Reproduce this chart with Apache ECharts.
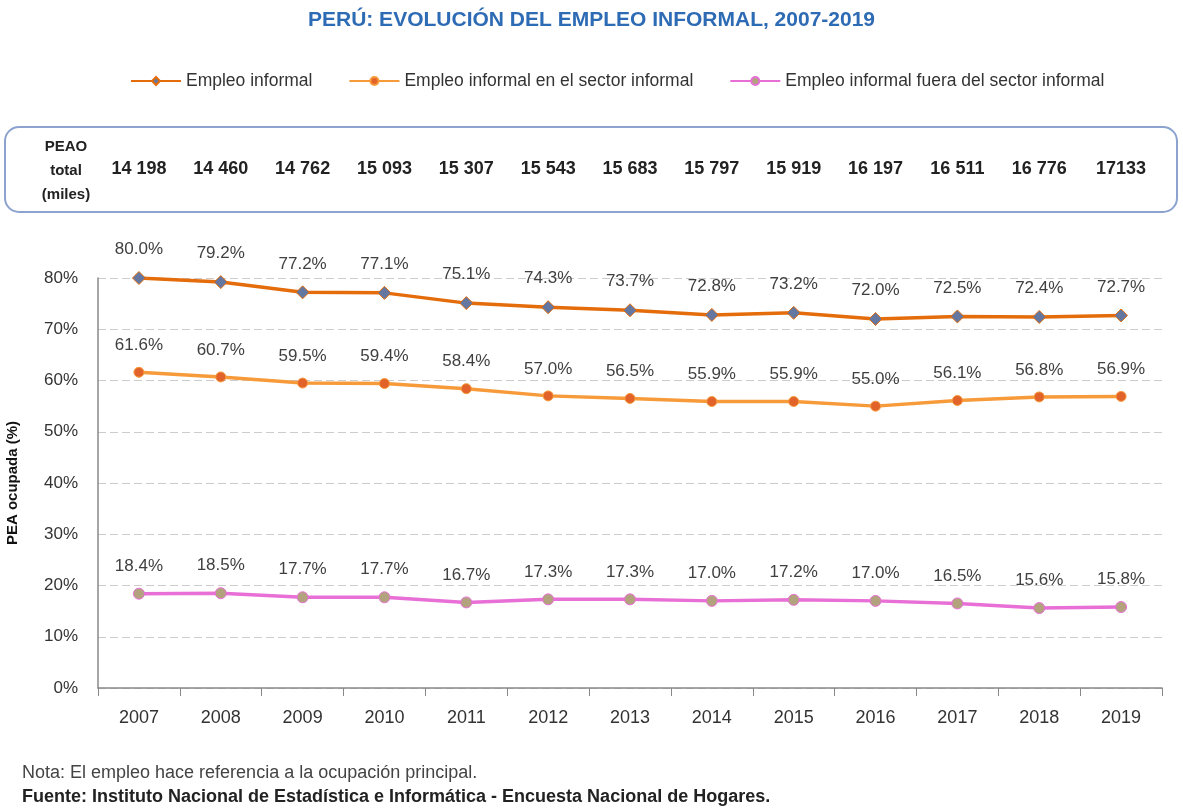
<!DOCTYPE html>
<html>
<head>
<meta charset="utf-8">
<script src="https://cdn.jsdelivr.net/npm/echarts@6/dist/echarts.min.js"></script>
<style>
  html, body { margin: 0; padding: 0; background: #fff; }
  #main { width: 1183px; height: 812px; }
</style>
</head>
<body>
<div id="main"></div>
<script>
var years = ['2007','2008','2009','2010','2011','2012','2013','2014','2015','2016','2017','2018','2019'];
var peao = ['14 198','14 460','14 762','15 093','15 307','15 543','15 683','15 797','15 919','16 197','16 511','16 776','17133'];
var empleoInformal = [80.0, 79.2, 77.2, 77.1, 75.1, 74.3, 73.7, 72.8, 73.2, 72.0, 72.5, 72.4, 72.7];
var enSector = [61.6, 60.7, 59.5, 59.4, 58.4, 57.0, 56.5, 55.9, 55.9, 55.0, 56.1, 56.8, 56.9];
var fueraSector = [18.4, 18.5, 17.7, 17.7, 16.7, 17.3, 17.3, 17.0, 17.2, 17.0, 16.5, 15.6, 15.8];
var yTicks = [0, 10, 20, 30, 40, 50, 60, 70, 80];

var font = 'Liberation Sans';
var chart = echarts.init(document.getElementById('main'));

function labelCfg() {
  return {
    show: true, position: 'top', distance: 13,
    fontFamily: font, fontSize: 17, color: '#404040',
    formatter: function (p) { return p.value.toFixed(1) + '%'; }
  };
}

chart.setOption({
  animation: false,
  textStyle: { fontFamily: font },
  title: {
    text: 'PERÚ: EVOLUCIÓN DEL EMPLEO INFORMAL, 2007-2019',
    left: 'center', top: 5,
    textStyle: { fontFamily: font, fontSize: 21, fontWeight: 'bold', color: '#2E6BB5' }
  },
  legend: {
    top: 67, left: 125, itemGap: 36, itemWidth: 50, itemHeight: 10,
    textStyle: { fontFamily: font, fontSize: 17.5, color: '#333' },
    data: ['Empleo informal', 'Empleo informal en el sector informal', 'Empleo informal fuera del sector informal']
  },
  grid: { left: 98, right: 21, top: 278, bottom: 124, outerBoundsMode: 'none' },
  graphic: [
    { type: 'rect', shape: { x: 5, y: 127, width: 1172, height: 85, r: 14 },
      style: { fill: 'none', stroke: '#8DA3CF', lineWidth: 2 } },
    { type: 'text', x: 66, y: 171,
      style: { text: 'PEAO\ntotal\n(miles)', align: 'center', verticalAlign: 'middle',
        font: 'bold 15px ' + font, fill: '#222', lineHeight: 24 } },
    { type: 'text', x: 22, y: 764,
      style: { text: 'Nota: El empleo hace referencia a la ocupación principal.', font: '18px ' + font, fill: '#444' } },
    { type: 'text', x: 22, y: 788,
      style: { text: 'Fuente: Instituto Nacional de Estadística e Informática - Encuesta Nacional de Hogares.', font: 'bold 18px ' + font, fill: '#222' } }
  ],
  xAxis: [
    {
      type: 'category', data: years, boundaryGap: true,
      axisLine: { lineStyle: { color: '#888', width: 1.5 } },
      axisTick: { show: true, alignWithLabel: false, length: 8, lineStyle: { color: '#888' } },
      axisLabel: { fontFamily: font, fontSize: 18, color: '#333', margin: 21 }
    },
    {
      type: 'category', data: peao, position: 'top', offset: 92, boundaryGap: true,
      axisLine: { show: false }, axisTick: { show: false },
      axisLabel: { fontFamily: font, fontSize: 18, fontWeight: 'bold', color: '#222', margin: 8 }
    }
  ],
  yAxis: {
    type: 'value', min: 0, max: 80, interval: 10,
    name: 'PEA ocupada (%)', nameLocation: 'middle', nameGap: 78,
    nameTextStyle: { fontFamily: font, fontSize: 15, fontWeight: 'bold', color: '#111' },
    axisLine: { show: true, lineStyle: { color: '#888', width: 1.5 } },
    axisTick: { show: false },
    axisLabel: { fontFamily: font, fontSize: 17, color: '#333', margin: 20,
      formatter: function (v) { return yTicks.indexOf(v) >= 0 ? v + '%' : ''; } },
    splitLine: { lineStyle: { color: '#ccc', type: [8, 4] } }
  },
  series: [
    {
      name: 'Empleo informal', type: 'line', data: empleoInformal,
      symbol: 'diamond', symbolSize: 13,
      lineStyle: { color: '#E46C0A', width: 3.5 },
      itemStyle: { color: '#6477A0', borderColor: '#E46C0A', borderWidth: 1 },
      label: labelCfg()
    },
    {
      name: 'Empleo informal en el sector informal', type: 'line', data: enSector,
      symbol: 'circle', symbolSize: 10,
      lineStyle: { color: '#F79A3A', width: 3.5 },
      itemStyle: { color: '#E2632A', borderColor: '#F79A3A', borderWidth: 1 },
      label: labelCfg()
    },
    {
      name: 'Empleo informal fuera del sector informal', type: 'line', data: fueraSector,
      symbol: 'circle', symbolSize: 11,
      lineStyle: { color: '#E86FD6', width: 3.5 },
      itemStyle: { color: '#B3A27E', borderColor: '#E86FD6', borderWidth: 1 },
      label: labelCfg()
    }
  ]
});
</script>
</body>
</html>
